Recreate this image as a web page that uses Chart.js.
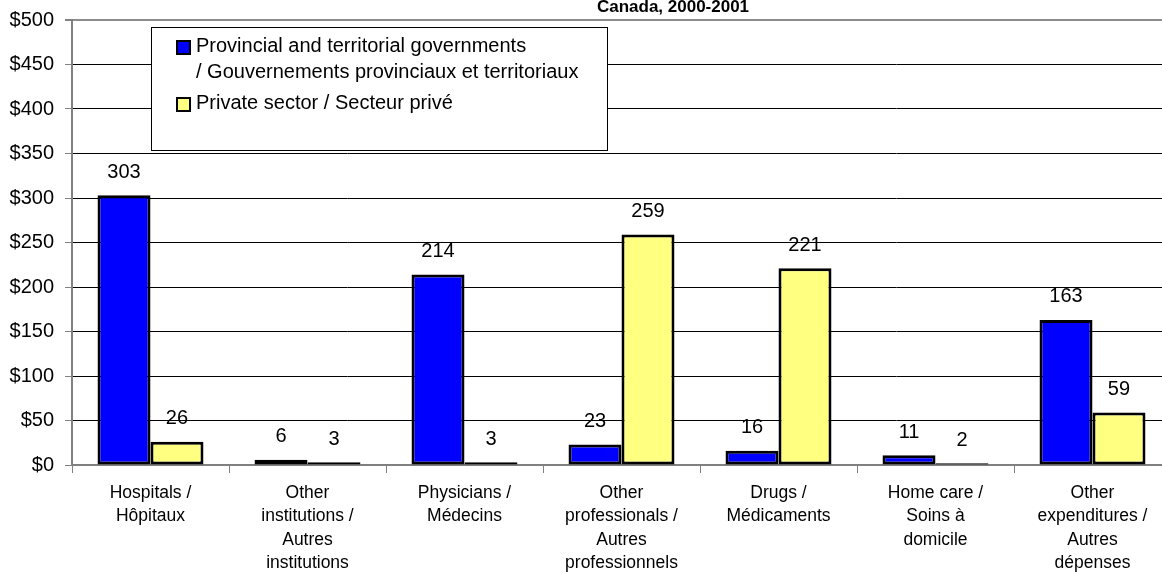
<!DOCTYPE html>
<html>
<head>
<meta charset="utf-8">
<script src="https://cdn.jsdelivr.net/npm/chart.js@4"></script>
<style>
  html, body { margin: 0; padding: 0; overflow: hidden; background: #fff; }
  canvas { display: block; }
</style>
</head>
<body>
<canvas id="myChart" width="1180" height="572"></canvas>
<script>
const categories = [
  ["Hospitals /", "Hôpitaux"],
  ["Other", "institutions /", "Autres", "institutions"],
  ["Physicians /", "Médecins"],
  ["Other", "professionals /", "Autres", "professionnels"],
  ["Drugs /", "Médicaments"],
  ["Home care /", "Soins à", "domicile"],
  ["Other", "expenditures /", "Autres", "dépenses"],
];
const governmentValues = [303, 6, 214, 23, 16, 11, 163];
const privateValues = [26, 3, 3, 259, 221, 2, 59];
const governmentName = ["Provincial and territorial governments", "/ Gouvernements provinciaux et territoriaux"];
const privateName = ["Private sector / Secteur privé"];
const titleText = "Canada, 2000-2001";

const font = "Arial, 'Liberation Sans', sans-serif";

// value labels above each bar
const valueLabels = {
  id: "valueLabels",
  afterDatasetsDraw(chart) {
    const c = chart.ctx;
    c.save();
    c.font = "20px " + font;
    c.fillStyle = "#000";
    c.textAlign = "center";
    c.textBaseline = "middle";
    chart.data.datasets.forEach(function (ds, i) {
      chart.getDatasetMeta(i).data.forEach(function (bar, j) {
        c.fillText(String(ds.data[j]), bar.x, bar.y - 23);
      });
    });
    c.restore();
  },
};

// boxed legend + clipped title, drawn like the original
const boxLegend = {
  id: "boxLegend",
  afterDraw(chart) {
    const c = chart.ctx;
    c.save();
    c.fillStyle = "#fff";
    c.fillRect(151, 27, 456, 123);
    c.strokeStyle = "#000";
    c.lineWidth = 1;
    c.strokeRect(151.5, 27.5, 456, 123);

    const names = [governmentName, privateName];
    const tops = [41, 98];
    c.font = "20px " + font;
    c.textBaseline = "alphabetic";
    c.textAlign = "left";
    chart.data.datasets.forEach(function (ds, i) {
      c.fillStyle = ds.backgroundColor;
      c.fillRect(177, tops[i], 13, 13);
      c.lineWidth = 2;
      c.strokeStyle = "#000";
      c.strokeRect(177, tops[i], 13, 13);
      c.fillStyle = "#000";
      names[i].forEach(function (line, k) {
        c.fillText(line, 196, tops[i] + 11 + k * 26);
      });
    });

    c.font = "bold 17px " + font;
    c.textAlign = "center";
    c.fillText(titleText, 673, 12);
    c.restore();
  },
};

const ctx = document.getElementById("myChart");

var chart = new Chart(ctx, {
  type: "bar",
  data: {
    labels: categories,
    datasets: [
      {
        label: governmentName.join(" "),
        data: governmentValues,
        backgroundColor: "#0000ff",
        borderColor: "#000",
        borderWidth: 3,
        borderSkipped: false,
      },
      {
        label: privateName.join(" "),
        data: privateValues,
        backgroundColor: "#ffff80",
        borderColor: "#000",
        borderWidth: 3,
        borderSkipped: false,
      },
    ],
  },
  options: {
    responsive: false,
    animation: false,
    layout: { padding: { top: 20, right: 9, left: 0, bottom: 0 } },
    categoryPercentage: 0.675,
    barPercentage: 1,
    plugins: {
      legend: { display: false },
      tooltip: { enabled: false },
    },
    scales: {
      x: {
        afterFit: function (scale) { scale.height = 107; },
        grid: {
          offset: true,
          drawOnChartArea: false,
          tickLength: 8,
          color: "#808080",
        },
        border: { color: "#808080", width: 2 },
        ticks: {
          color: "#000",
          font: { family: font, size: 17.5, lineHeight: 1.32 },
          padding: 9,
          maxRotation: 0,
          autoSkip: false,
        },
      },
      y: {
        min: 0,
        max: 500,
        afterFit: function (scale) {
          scale.width = 72;
          scale.paddingTop = 0;
          scale.paddingBottom = 0;
        },
        grid: {
          color: function (c) { return c.tick && c.tick.value === 500 ? "#8c8c8c" : "#000"; },
          lineWidth: function (c) { return c.tick && c.tick.value === 500 ? 2 : 1; },
          tickColor: "#808080",
          tickLength: 7,
        },
        border: { color: "#808080", width: 2 },
        ticks: {
          stepSize: 50,
          color: "#000",
          padding: 11,
          font: { family: font, size: 20 },
          callback: function (v) { return "$" + v; },
        },
      },
    },
  },
  plugins: [valueLabels, boxLegend],
});
</script>
</body>
</html>
